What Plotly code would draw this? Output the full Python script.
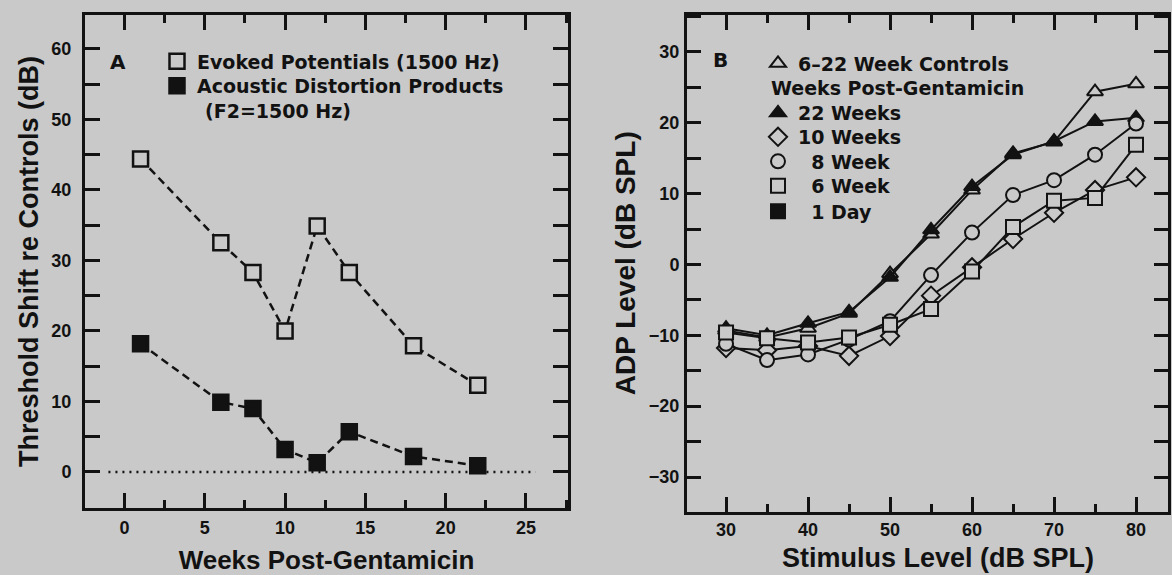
import plotly.graph_objects as go

# ---------------- Panel A data ----------------
weeks = [1, 6, 8, 10, 12, 14, 18, 22]
evoked_potentials = [44.4, 32.5, 28.3, 20.0, 34.9, 28.3, 17.9, 12.3]
adp_shift = [18.2, 9.9, 9.0, 3.2, 1.3, 5.7, 2.2, 0.9]
zero_line_x = [-1.0, 25.6]
zero_line_y = [0, 0]

# ---------------- Panel B data ----------------
stim_levels = [30, 35, 40, 45, 50, 55, 60, 65, 70, 75, 80]
controls_6_22 = [-9.3, -10.3, -9.0, -6.9, -1.3, 4.3, 10.5, 15.7, 17.3, 24.4, 25.5]
weeks_22 = [-9.0, -10.0, -8.3, -6.7, -1.8, 4.9, 11.0, 15.5, 17.4, 20.2, 20.7]
weeks_10 = [-11.8, -12.1, -11.5, -12.9, -10.1, -4.4, -0.4, 3.6, 7.3, 10.5, 12.3]
week_8 = [-11.2, -13.5, -12.7, -10.6, -8.0, -1.5, 4.5, 9.8, 11.9, 15.5, 19.9]
week_6 = [-9.6, -10.4, -11.0, -10.3, -8.5, -6.3, -1.0, 5.3, 9.0, 9.4, 16.9]

BG = "#c9c9c9"
INK = "#121212"
W, H = 1172, 575

legend_font = dict(family="DejaVu Sans", size=19, color=INK, weight="bold")
tick_font = dict(family="Liberation Sans", size=18, color=INK, weight="bold")


def px_x(p):
    return p / W


def px_y(p):
    return 1 - p / H


def one_legend(sym_center_x, center_y):
    return dict(x=px_x(sym_center_x - 20), y=px_y(center_y), xanchor="left",
                yanchor="middle", bgcolor="rgba(0,0,0,0)", font=legend_font,
                itemwidth=30, tracegroupgap=0)


fig = go.Figure()

# ---- Panel A ----
fig.add_trace(go.Scatter(x=zero_line_x, y=zero_line_y, mode="lines",
                         line=dict(color=INK, width=2.5, dash="2px,5px"),
                         showlegend=False, hoverinfo="skip"))
fig.add_trace(go.Scatter(x=weeks, y=evoked_potentials, mode="lines+markers",
                         line=dict(color=INK, width=2.5, dash="8px,5px"),
                         marker=dict(symbol="square", size=15, color=BG,
                                     line=dict(color=INK, width=2.5)),
                         showlegend=False))
fig.add_trace(go.Scatter(x=weeks, y=adp_shift, mode="lines+markers",
                         line=dict(color=INK, width=2.5, dash="8px,5px"),
                         marker=dict(symbol="square", size=15, color=INK,
                                     line=dict(color=INK, width=2.5)),
                         showlegend=False))
# legend proxies A
fig.add_trace(go.Scatter(x=[None], y=[None], mode="markers",
                         name="Evoked Potentials (1500 Hz)", legend="legend",
                         marker=dict(symbol="square", size=15, color=BG,
                                     line=dict(color=INK, width=2.5))))
fig.add_trace(go.Scatter(x=[None], y=[None], mode="markers",
                         name="Acoustic Distortion Products", legend="legend2",
                         marker=dict(symbol="square", size=15, color=INK,
                                     line=dict(color=INK, width=2.5))))

# ---- Panel B ----
series_b = [
    ("6\u201322 Week Controls", controls_6_22, "triangle-up", BG, "legend3"),
    ("22 Weeks", weeks_22, "triangle-up", INK, "legend4"),
    ("10 Weeks", weeks_10, "diamond", BG, "legend5"),
    ("\u20078 Week", week_8, "circle", BG, "legend6"),
    ("\u20076 Week", week_6, "square", BG, "legend7"),
]
for name, vals, sym, fill, leg in series_b:
    fig.add_trace(go.Scatter(x=stim_levels, y=vals, mode="lines+markers",
                             xaxis="x2", yaxis="y2",
                             line=dict(color=INK, width=2),
                             marker=dict(symbol=sym, size=14, color=fill,
                                         line=dict(color=INK, width=2)),
                             showlegend=False))
for name, vals, sym, fill, leg in series_b:
    fig.add_trace(go.Scatter(x=[None], y=[None], mode="markers",
                             xaxis="x2", yaxis="y2", name=name, legend=leg,
                             marker=dict(symbol=sym, size=14, color=fill,
                                         line=dict(color=INK, width=2))))
# 1 Day (legend entry only; its points are not distinguishable in the figure)
fig.add_trace(go.Scatter(x=[None], y=[None], mode="markers",
                         xaxis="x2", yaxis="y2", name="\u20071 Day", legend="legend8",
                         marker=dict(symbol="square", size=14, color=INK,
                                     line=dict(color=INK, width=2))))

axis_common = dict(showgrid=False, zeroline=False, showline=True, linewidth=3,
                   linecolor=INK, mirror="ticks", ticks="inside", tickwidth=2.5,
                   tickcolor=INK, tickfont=tick_font, automargin=False)

fig.update_layout(
    width=W, height=H,
    margin=dict(l=0, r=0, t=0, b=0),
    paper_bgcolor=BG, plot_bgcolor=BG,
    xaxis=dict(domain=[px_x(85), px_x(568)], range=[-2.46, 27.62], anchor="y",
               tick0=0, dtick=5, ticklen=15, ticklabelstandoff=1,
               minor=dict(dtick=2.5, ticklen=8, tickwidth=2.5, ticks="inside",
                          tickcolor=INK, showgrid=False),
               title=dict(text="Weeks Post-Gentamicin", standoff=15,
                          font=dict(family="Liberation Sans", size=26, color=INK, weight="bold")),
               **axis_common),
    yaxis=dict(domain=[px_y(508), px_y(15)], range=[-5.11, 64.82], anchor="x",
               tick0=0, dtick=10, ticklen=15, ticklabelstandoff=7,
               minor=dict(dtick=5, ticklen=15, tickwidth=2.5, ticks="inside",
                          tickcolor=INK, showgrid=False),
               title=dict(text="Threshold Shift re Controls (dB)", standoff=5,
                          font=dict(family="Liberation Sans", size=27, color=INK, weight="bold")),
               **axis_common),
    xaxis2=dict(domain=[px_x(687), px_x(1168)], range=[25.24, 83.9], anchor="y2",
                tick0=0, dtick=10, ticklen=15, ticklabelstandoff=0,
                minor=dict(dtick=5, ticklen=8, tickwidth=2.5, ticks="inside",
                           tickcolor=INK, showgrid=False),
                **axis_common),
    yaxis2=dict(domain=[px_y(511.5), px_y(15)], range=[-34.87, 35.22], anchor="x2",
                tick0=0, dtick=10, ticklen=14, ticklabelstandoff=1,
                minor=dict(dtick=5, ticklen=14, tickwidth=2.5, ticks="inside",
                           tickcolor=INK, showgrid=False),
                title=dict(text="ADP Level (dB SPL)", standoff=6,
                           font=dict(family="Liberation Sans", size=28, color=INK, weight="bold")),
                **axis_common),
    legend=one_legend(177, 61.5),
    legend2=one_legend(177, 86),
    legend3=one_legend(778, 63.5),
    legend4=one_legend(778, 113),
    legend5=one_legend(778, 137),
    legend6=one_legend(778, 161.5),
    legend7=one_legend(778, 186),
    legend8=one_legend(778, 211.5),
    annotations=[
        dict(text="A", x=px_x(117.5), y=px_y(61.7), xref="paper", yref="paper",
             showarrow=False, font=dict(family="DejaVu Sans", size=20, color=INK, weight="bold"),
             xanchor="center", yanchor="middle"),
        dict(text="B", x=px_x(720), y=px_y(60), xref="paper", yref="paper",
             showarrow=False, font=dict(family="DejaVu Sans", size=20, color=INK, weight="bold"),
             xanchor="center", yanchor="middle"),
        dict(text="(F2=1500 Hz)", x=px_x(203), y=px_y(111), xref="paper", yref="paper",
             showarrow=False, font=legend_font, xanchor="left", yanchor="middle"),
        dict(text="Weeks Post-Gentamicin", x=px_x(769), y=px_y(88), xref="paper", yref="paper",
             showarrow=False, font=legend_font, xanchor="left", yanchor="middle"),
        dict(text="Stimulus Level (dB SPL)", x=px_x(938), y=px_y(557.5), xref="paper",
             yref="paper", showarrow=False,
             font=dict(family="Liberation Sans", size=27, color=INK, weight="bold"),
             xanchor="center", yanchor="middle"),
    ],
    showlegend=True,
)

fig.write_html("out.html")
